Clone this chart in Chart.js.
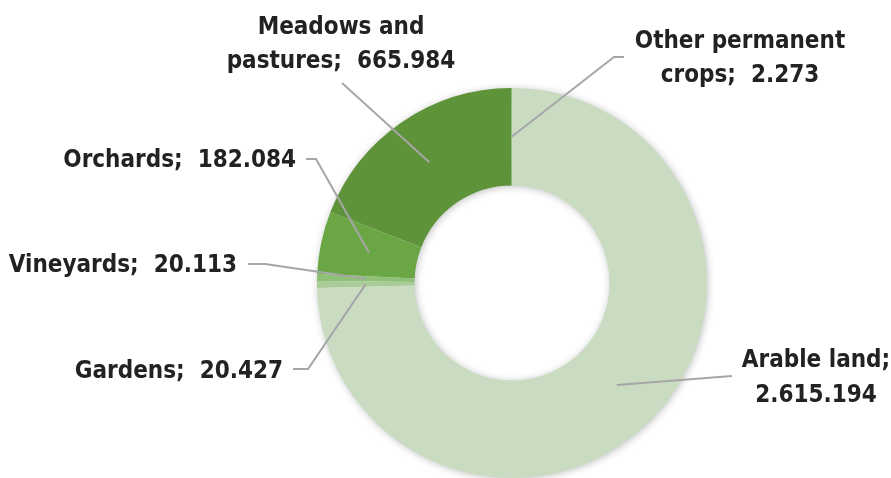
<!DOCTYPE html>
<html>
<head>
<meta charset="utf-8">
<script src="https://cdn.jsdelivr.net/npm/chart.js@4.4.0/dist/chart.umd.min.js"></script>
<style>
  html, body { margin: 0; padding: 0; background: #fff; }
  #wrap { width: 891px; height: 478px; }
</style>
</head>
<body>
<div id="wrap"><canvas id="landChart"></canvas></div>
<script>
// data (hectares)
const categories = ['Arable land', 'Gardens', 'Vineyards', 'Orchards', 'Meadows and pastures', 'Other permanent crops'];
const values = [2615194, 20427, 20113, 182084, 665984, 2273];
const colors = ['#c9dcc2', '#a9cb98', '#8fc077', '#6aa744', '#5e933a', '#7fae5e'];

// where each label sits and how its leader line bends (layout only)
const labelLayout = [
    { x: 816, y: 361, align: 'center', wrapAt: 12, lineGap: 35, path: [[732, 376]] },
    { x: 283, y: 372, align: 'right', path: [[293, 369], [308, 369]] },
    { x: 237, y: 266, align: 'right', path: [[248, 264], [265, 264]] },
    { x: 296, y: 161, align: 'right', path: [[306, 159], [316, 159]] },
    { x: 341, y: 28, align: 'center', wrapAt: 11, lineGap: 34, path: [[342, 83]] },
    { x: 740, y: 42, align: 'center', wrapAt: 15, lineGap: 34, path: [[624, 57], [614, 57]] },
];

const fmt = v => v.toLocaleString('en-US').replace(/,/g, '.');

function labelLines(i) {
    const full = categories[i] + ';  ' + fmt(values[i]);
    const w = labelLayout[i].wrapAt;
    if (!w) return [full];
    return [full.slice(0, w).trim(), full.slice(w).trim()];
}

// soft shadow behind the whole ring (drawn once, arcs go on top)
const ringShadow = {
    id: 'ringShadow',
    beforeDatasetsDraw(chart) {
        const arc = chart.getDatasetMeta(0).data[0];
        if (!arc) return;
        const { x, y, outerRadius, innerRadius } = arc.getProps(['x', 'y', 'outerRadius', 'innerRadius'], true);
        const ctx = chart.ctx;
        ctx.save();
        ctx.shadowColor = 'rgba(0,0,0,0.3)';
        ctx.shadowBlur = 9;
        ctx.shadowOffsetX = 1;
        ctx.shadowOffsetY = 1;
        ctx.fillStyle = '#ffffff';
        ctx.beginPath();
        ctx.arc(x, y, outerRadius - 1, 0, Math.PI * 2);
        ctx.arc(x, y, innerRadius + 1, 0, Math.PI * 2, true);
        ctx.fill();
        ctx.restore();
    }
};

// labels with leader lines
const leaderLabels = {
    id: 'leaderLabels',
    afterDraw(chart) {
        const ctx = chart.ctx;
        const arcs = chart.getDatasetMeta(0).data;
        ctx.save();
        arcs.forEach((arc, i) => {
            const lay = labelLayout[i];
            const anchor = arc.tooltipPosition();
            ctx.strokeStyle = '#a6a6a6';
            ctx.lineWidth = 2;
            ctx.beginPath();
            ctx.moveTo(lay.path[0][0], lay.path[0][1]);
            for (let k = 1; k < lay.path.length; k++) ctx.lineTo(lay.path[k][0], lay.path[k][1]);
            ctx.lineTo(anchor.x, anchor.y);
            ctx.stroke();

            ctx.fillStyle = '#222222';
            ctx.font = 'bold 24px "DejaVu Sans Condensed", "Liberation Sans Narrow", sans-serif';
            ctx.textAlign = lay.align;
            ctx.textBaseline = 'middle';
            labelLines(i).forEach((line, j) => {
                ctx.fillText(line, lay.x, lay.y + j * (lay.lineGap || 0));
            });
        });
        ctx.restore();
    }
};

new Chart(document.getElementById('landChart'), {
    type: 'doughnut',
    data: {
        labels: categories,
        datasets: [{
            data: values,
            backgroundColor: colors,
            borderWidth: 0,
        }],
    },
    options: {
        responsive: true,
        maintainAspectRatio: false,
        animation: false,
        cutout: '50%',
        rotation: 0,
        layout: { padding: { left: 317, right: 184, top: 88, bottom: 0 } },
        plugins: {
            legend: { display: false },
            tooltip: { enabled: false },
        },
    },
    plugins: [ringShadow, leaderLabels],
});
</script>
</body>
</html>
